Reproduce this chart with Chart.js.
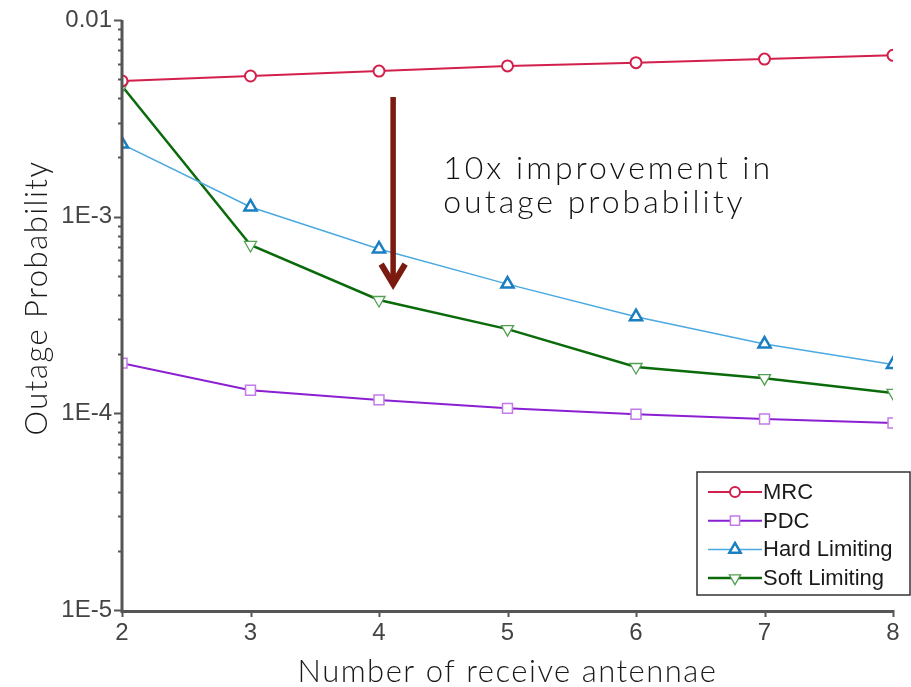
<!DOCTYPE html>
<html>
<head>
<meta charset="utf-8">
<script src="https://cdn.jsdelivr.net/npm/chart.js@4"></script>
<style>
  html, body { margin: 0; padding: 0; background: #fff; }
  #c { display: block; }
</style>
</head>
<body>
<canvas id="c" width="911" height="687"></canvas>
<script>
// Number of receive antennae
const antennae = [2, 3, 4, 5, 6, 7, 8];

// Outage probability per combining scheme
const mrc          = [4.9e-3, 5.19e-3, 5.5e-3, 5.84e-3, 6.07e-3, 6.33e-3, 6.61e-3];
const pdc          = [1.80e-4, 1.31e-4, 1.17e-4, 1.06e-4, 9.9e-5, 9.36e-5, 8.93e-5];
const hardLimiting = [2.34e-3, 1.12e-3, 6.85e-4, 4.54e-4, 3.10e-4, 2.25e-4, 1.77e-4];
const softLimiting = [4.62e-3, 7.18e-4, 3.77e-4, 2.68e-4, 1.72e-4, 1.51e-4, 1.27e-4];

// Axis labelling
const yDecades = [1e-5, 1e-4, 1e-3, 1e-2];
const yDecadeLabels = ['1E-5', '1E-4', '1E-3', '0.01'];
const xTitle = 'Number of receive antennae';
const yTitle = 'Outage Probability';

// Callout: arrow from MRC down towards soft limiting at 4 antennae
const arrowX = 4.11;
const arrowFrom = 4.06e-3;
const arrowTo = 4.33e-4;
const noteLines = ['10x improvement in', 'outage probability'];
const noteX = 4.5;
const noteY = 1.55e-3;

const TITLE_FONT = 'Lato, "Open Sans", sans-serif';
const TICK_FONT = '"Liberation Sans", Arial, sans-serif';
const AXIS_COLOR = '#555';

function pts(values) {
  return antennae.map((a, i) => ({ x: a, y: values[i] }));
}

const series = [
  { label: 'MRC', data: pts(mrc), borderColor: '#d21f4b', pointBorderColor: '#d21f4b',
    pointStyle: 'circle', pointRadius: 5.5, borderWidth: 2, pointBorderWidth: 2, pointRotation: 0 },
  { label: 'PDC', data: pts(pdc), borderColor: '#8b1fd2', pointBorderColor: '#c47ae8',
    pointStyle: 'rect', pointRadius: 7, borderWidth: 2, pointBorderWidth: 1.5, pointRotation: 0 },
  { label: 'Hard Limiting', data: pts(hardLimiting), borderColor: '#4ba9e2', pointBorderColor: '#1a7ec2',
    pointStyle: 'triangle', pointRadius: 7, borderWidth: 1.5, pointBorderWidth: 2.5, pointRotation: 0 },
  { label: 'Soft Limiting', data: pts(softLimiting), borderColor: '#0b6b0b', pointBorderColor: '#53a053',
    pointStyle: 'triangle', pointRadius: 7, borderWidth: 2.5, pointBorderWidth: 1.3, pointRotation: 180 }
].map(d => Object.assign(d, {
  backgroundColor: '#ffffff', pointBackgroundColor: '#ffffff', tension: 0, fill: false,
  pointHoverRadius: d.pointRadius
}));

function drawMarkerPath(ctx, style, r, rot, cx, cy) {
  if (style === 'circle') {
    ctx.arc(cx, cy, r, 0, Math.PI * 2);
  } else if (style === 'rect') {
    const s = Math.SQRT1_2 * r;
    ctx.rect(cx - s, cy - s, 2 * s, 2 * s);
  } else {
    let ang = rot * Math.PI / 180;
    ctx.moveTo(cx + Math.sin(ang) * r, cy - Math.cos(ang) * r);
    for (let k = 0; k < 2; k++) {
      ang += 2 * Math.PI / 3;
      ctx.lineTo(cx + Math.sin(ang) * r, cy - Math.cos(ang) * r);
    }
    ctx.closePath();
  }
}

// Axis lines and tick marks, drawn on top of the data
const axisMarks = {
  id: 'axisMarks',
  afterDatasetsDraw(chart) {
    const { ctx, chartArea: a, scales: { x, y } } = chart;
    ctx.save();
    ctx.strokeStyle = AXIS_COLOR;
    ctx.lineCap = 'butt';
    ctx.lineWidth = 2;
    // major and minor ticks on the log axis
    for (let d = 0; d < yDecades.length; d++) {
      const base = yDecades[d];
      const mults = d === yDecades.length - 1 ? [1] : [1, 2, 3, 4, 5, 6, 7, 8, 9];
      for (const m of mults) {
        const py = Math.round(y.getPixelForValue(base * m)) + 0.5;
        const len = m === 1 ? 8 : 4;
        ctx.beginPath();
        ctx.moveTo(a.left - len, py);
        ctx.lineTo(a.left, py);
        ctx.stroke();
      }
    }
    // x ticks: integers and half steps
    for (let v = x.min; v <= x.max + 1e-9; v += 0.5) {
      const px = Math.round(x.getPixelForValue(v)) + 0.5;
      const len = Number.isInteger(v) ? 7 : 3;
      ctx.beginPath();
      ctx.moveTo(px, a.bottom);
      ctx.lineTo(px, a.bottom + len);
      ctx.stroke();
    }
    // axis lines
    ctx.lineWidth = 3;
    ctx.beginPath();
    ctx.moveTo(a.left, a.top);
    ctx.lineTo(a.left, a.bottom + 1.5);
    ctx.lineTo(a.right, a.bottom + 1.5);
    ctx.stroke();
    ctx.restore();
  }
};

// Axis titles, callout arrow and note, legend box
const decorations = {
  id: 'decorations',
  afterDraw(chart) {
    const { ctx, chartArea: a, scales: { x, y } } = chart;
    ctx.save();

    // axis titles
    ctx.fillStyle = '#1a1a1a';
    ctx.font = '300 31px ' + TITLE_FONT;
    ctx.letterSpacing = '1.5px';
    ctx.textAlign = 'center';
    ctx.textBaseline = 'alphabetic';
    ctx.fillText(xTitle, (a.left + a.right) / 2, 682);
    ctx.save();
    ctx.translate(47, 298);
    ctx.rotate(-Math.PI / 2);
    ctx.fillText(yTitle, 0, 0);
    ctx.restore();

    // arrow
    const ax = x.getPixelForValue(arrowX);
    const ay0 = y.getPixelForValue(arrowFrom);
    const ay1 = y.getPixelForValue(arrowTo);
    ctx.strokeStyle = '#7b1a0e';
    ctx.lineWidth = 5.5;
    ctx.beginPath();
    ctx.moveTo(ax, ay0);
    ctx.lineTo(ax, ay1 - 3);
    ctx.stroke();
    ctx.lineWidth = 6;
    ctx.lineJoin = 'miter';
    ctx.beginPath();
    ctx.moveTo(ax - 12, ay1 - 24);
    ctx.lineTo(ax, ay1 - 4);
    ctx.lineTo(ax + 12, ay1 - 24);
    ctx.stroke();

    // note
    ctx.fillStyle = '#111';
    ctx.font = '300 32px ' + TITLE_FONT;
    ctx.letterSpacing = '3px';
    ctx.textAlign = 'left';
    const nx = x.getPixelForValue(noteX);
    const ny = y.getPixelForValue(noteY);
    noteLines.forEach((t, i) => ctx.fillText(t, nx, ny + i * 34));
    ctx.letterSpacing = '0px';

    // legend
    const box = { left: 697, top: 472, right: 910, bottom: 595 };
    ctx.fillStyle = '#fff';
    ctx.fillRect(box.left, box.top, box.right - box.left, box.bottom - box.top);
    ctx.strokeStyle = '#333';
    ctx.lineWidth = 1.5;
    ctx.strokeRect(box.left, box.top, box.right - box.left, box.bottom - box.top);
    ctx.font = '22px ' + TICK_FONT;
    ctx.textBaseline = 'middle';
    chart.data.datasets.forEach((ds, i) => {
      const ly = 492 + i * 28.7;
      ctx.strokeStyle = ds.borderColor;
      ctx.lineWidth = ds.borderWidth;
      ctx.beginPath();
      ctx.moveTo(708, ly);
      ctx.lineTo(762, ly);
      ctx.stroke();
      ctx.fillStyle = '#fff';
      ctx.strokeStyle = ds.pointBorderColor;
      ctx.lineWidth = ds.pointBorderWidth;
      ctx.beginPath();
      drawMarkerPath(ctx, ds.pointStyle, ds.pointStyle === 'circle' ? 5 : 6.5, ds.pointRotation, 735, ly);
      ctx.fill();
      ctx.stroke();
      ctx.fillStyle = '#1a1a1a';
      ctx.textAlign = 'left';
      ctx.fillText(ds.label, 763, ly + 1);
    });
    ctx.restore();
  }
};

new Chart(document.getElementById('c'), {
  type: 'line',
  data: { datasets: series },
  plugins: [axisMarks, decorations],
  options: {
    responsive: false,
    animation: false,
    events: [],
    layout: { padding: { top: 20, right: 18, left: 0, bottom: 0 } },
    plugins: { legend: { display: false }, tooltip: { enabled: false } },
    scales: {
      x: {
        type: 'linear',
        min: 2, max: 8,
        grid: { display: false, drawTicks: false },
        border: { display: false },
        ticks: {
          stepSize: 1,
          padding: 9,
          color: '#444',
          font: { family: TICK_FONT, size: 24 }
        },
        afterFit(s) { s.height = 77; s.paddingLeft = 0; s.paddingRight = 0; }
      },
      y: {
        type: 'logarithmic',
        min: yDecades[0], max: yDecades[yDecades.length - 1],
        grid: { display: false, drawTicks: false },
        border: { display: false },
        afterBuildTicks(s) { s.ticks = yDecades.map(v => ({ value: v, major: true })); },
        ticks: {
          autoSkip: false,
          padding: 10,
          color: '#444',
          font: { family: TICK_FONT, size: 24 },
          callback(v) {
            const i = yDecades.findIndex(d => Math.abs(d - v) / d < 1e-6);
            return i >= 0 ? yDecadeLabels[i] : '';
          }
        },
        afterFit(s) { s.width = 122; s.paddingTop = 0; s.paddingBottom = 0; }
      }
    }
  }
});
</script>
</body>
</html>
